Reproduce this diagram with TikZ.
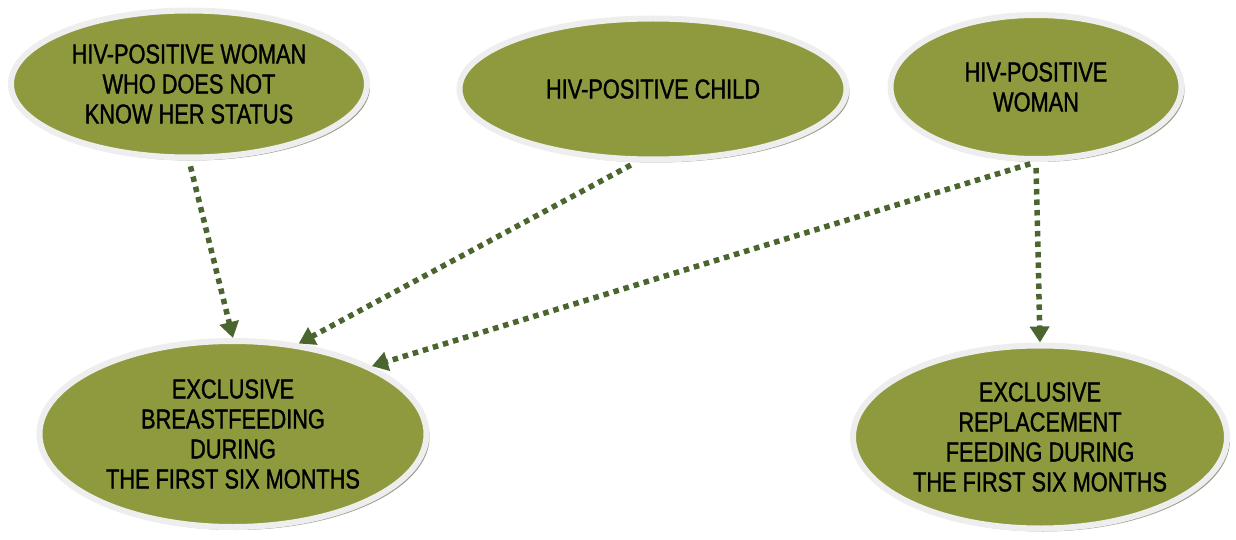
\documentclass[tikz,border=0pt]{standalone}
\usepackage{fontspec}
\setmainfont{Liberation Sans}[FakeStretch=0.8,FakeBold=1.2]
\usetikzlibrary{shapes.geometric,shadows,arrows.meta}
\definecolor{olive}{HTML}{8F9A3F}
\definecolor{rim}{HTML}{EEEEEE}
\definecolor{shade}{HTML}{9C9F8A}
\definecolor{arrowgreen}{HTML}{4A652E}
\tikzset{
  bubble/.style={ellipse, draw=rim, line width=6pt, fill=olive, inner sep=0pt,
    align=center, font=\fontsize{27.2}{30}\selectfont, text=black,
    drop shadow={shadow xshift=3pt, shadow yshift=-3pt, fill=shade, opacity=1}},
  link/.style={draw=arrowgreen, line width=5.5pt, dash pattern=on 5.5pt off 5pt,
    -{Triangle[length=16pt,width=19pt]}, shorten <=6pt}
}
\begin{document}
\begin{tikzpicture}[x=1pt,y=-1pt]
\useasboundingbox (0,0) rectangle (1236,540);
\node[bubble, minimum width=356pt, minimum height=147pt] (e1) at (189,84)
  {HIV-POSITIVE WOMAN\\WHO DOES NOT\\KNOW HER STATUS};
\node[bubble, minimum width=387pt, minimum height=141pt] (e2) at (653,89)
  {HIV-POSITIVE CHILD};
\node[bubble, minimum width=291pt, minimum height=144pt] (e3) at (1036,87)
  {HIV-POSITIVE\\WOMAN};
\node[bubble, minimum width=387pt, minimum height=186pt] (e4) at (233,434)
  {EXCLUSIVE\\BREASTFEEDING\\DURING\\THE FIRST SIX MONTHS};
\node[bubble, minimum width=374pt, minimum height=183pt] (e5) at (1040,437)
  {EXCLUSIVE\\REPLACEMENT\\FEEDING DURING\\THE FIRST SIX MONTHS};
\draw[link] (e1.south) -- (e4.north);
\draw[link] (e2.257) -- (e4.54);
\draw[link] (e3.south) -- (e4.north east);
\draw[link] (e3.south) -- (e5.north);
\end{tikzpicture}
\end{document}
